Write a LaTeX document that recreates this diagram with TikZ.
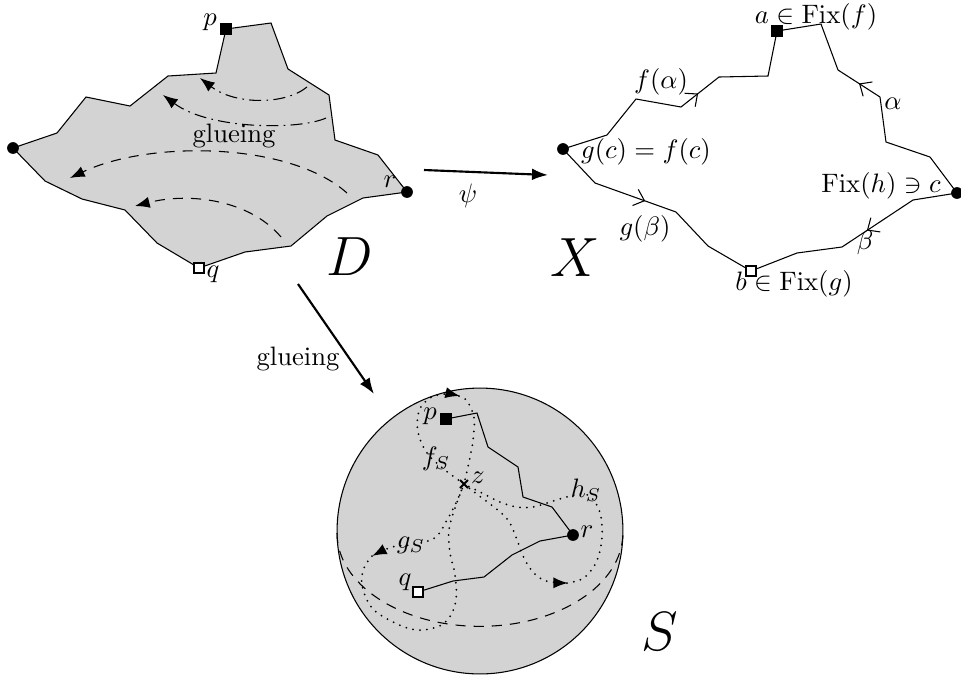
\documentclass[tikz,border=0pt]{standalone}
\usetikzlibrary{arrows.meta,decorations.markings}
\definecolor{fillg}{RGB}{211,211,211}
\begin{document}
\begin{tikzpicture}[x=0.375pt,y=-0.375pt,
  dotn/.style={circle,fill=black,inner sep=0pt,minimum size=4.4pt},
  fsq/.style={rectangle,fill=black,inner sep=0pt,minimum size=4.4pt},
  osq/.style={rectangle,draw=black,fill=white,line width=0.6pt,inner sep=0pt,minimum size=3.6pt},
  dd/.style={dash pattern=on 4.5pt off 2pt on 0.6pt off 2pt},
  dsh/.style={dash pattern=on 3.8pt off 3pt},
  dts/.style={line width=0.75pt,line cap=round,dash pattern=on 0pt off 2.6pt},
  tip/.style={-{Latex[length=5.5pt,width=4.2pt]}},
  bigarrow/.style={line width=0.8pt,-{Latex[length=6pt,width=4.4pt]}},
  lbl/.style={inner sep=0pt},
  midarrow/.style={postaction={decorate},decoration={markings,mark=at position #1 with {\arrow{Straight Barb[length=3.6pt,width=6.4pt,line width=0.4pt]}}}},
]
\useasboundingbox (0,0) rectangle (961,680);

% ---------------- D ----------------
\draw[fill=fillg] (13,148) -- (57,133) -- (86,97) -- (130,106) -- (168,76) -- (216,73) -- (226,29)
  -- (271,23) -- (288,69) -- (329,95) -- (335,140) -- (378,155) -- (407,192) -- (363,198)
  -- (327,216) -- (291,246) -- (245,252) -- (199,268) -- (157,243) -- (125,210) -- (82,199)
  -- (45,181) -- cycle;
\node[dotn] (dl) at (13,148) {};
\node[dotn] (dr) at (407,192) {};
\node[fsq] (dp) at (226,29) {};
\node[osq] (dq) at (199,268) {};
\node[lbl] (lp) at (210,22) {$p$};
\node[lbl] (lr) at (390,182) {$r$};
\node[lbl] (lq) at (213,274) {$q$};
\node[lbl] (lD) at (350,257) {\huge $D$};
\node[lbl,anchor=base] (lg1) at (234,142) {glueing};

\draw[dd,tip] (307,87) .. controls (285,105) and (235,105) .. (200,78);
\draw[dd,tip] (326,118) .. controls (300,130) and (210,130) .. (163,95);
\draw[dsh,tip] (347,193) .. controls (290,142) and (150,140) .. (70,178);
\draw[dsh,tip] (281,237) .. controls (250,200) and (190,192) .. (135,206);

% psi arrow
\coordinate (psiA) at (424,170);
\coordinate (psiB) at (548,175);
\draw[bigarrow] (psiA) -- (psiB);
\node[lbl] (lpsi) at (468,196) {$\psi$};

% glueing arrow
\coordinate (glA) at (298,284);
\coordinate (glB) at (374,394);
\draw[bigarrow] (glA) -- (glB);
\node[lbl,anchor=base] (lg2) at (298,365) {glueing};

% ---------------- X ----------------
\draw (563,149) -- (607,135) -- (636,99) -- (681,107);
\draw[midarrow=0.45] (681,107) -- (719,77);
\draw (719,77) -- (768,76) -- (777,31) -- (821,24) -- (838,70);
\draw[midarrow=0.5] (880,97) -- (838,70);
\draw (880,97) -- (886,142) -- (930,157) -- (957,193) -- (913,200);
\draw[midarrow=0.65] (913,200) -- (842,247);
\draw (842,247) -- (797,253) -- (751,271) -- (708,246) -- (676,212);
\draw[midarrow=0.62] (595,183) -- (676,212);
\draw (595,183) -- (563,149);
\node[dotn] (xc) at (563,149) {};
\node[dotn] (xc2) at (957,193) {};
\node[fsq] (xa) at (777,31) {};
\node[osq] (xb) at (751,271) {};
\node[lbl] (lfa) at (661,82) {$f(\alpha)$};
\node[lbl] (la) at (816,17) {$a\in\mathrm{Fix}(f)$};
\node[lbl] (lal) at (893,104) {$\alpha$};
\node[lbl] (lgc) at (646,152) {$g(c)=f(c)$};
\node[lbl] (lfh) at (881,186) {$\mathrm{Fix}(h)\ni c$};
\node[lbl] (lbe) at (865,243) {$\beta$};
\node[lbl] (lgb) at (645,229) {$g(\beta)$};
\node[lbl] (lb) at (794,284) {$b\in\mathrm{Fix}(g)$};
\node[lbl] (lX) at (575,258) {\huge $X$};

% ---------------- S ----------------
\draw[fill=fillg] (480,531) circle[radius=53.6pt];
\draw[dsh] (337,533) arc[start angle=180,end angle=360,x radius=53.6pt,y radius=35pt];

\draw (446,419) -- (477,413) -- (488,447) -- (518,467) -- (523,497) -- (552,507) -- (573,535)
  -- (540,541) -- (512,555) -- (484,577) -- (453,581) -- (418,592);

% f_S loop
\draw[dts,tip] plot[smooth,tension=0.6] coordinates {(464,484) (445,470) (427,453) (418,432) (419,411) (430,398) (445,394) (460,396)};
\draw[dts] plot[smooth,tension=0.6] coordinates {(459,396) (467,401) (474,418) (473,440) (469,462) (464,484)};
% g_S loop
\draw[dts,tip] plot[smooth,tension=0.6] coordinates {(464,484) (456,503) (447,520) (438,535) (428,541) (410,545) (392,547) (372,556)};
\draw[dts] plot[smooth,tension=0.6] coordinates {(372,556) (364,568) (362,585) (372,608) (395,623) (417,630) (437,627) (449,618) (456,600) (455,575) (450,553) (449,530) (455,508) (464,484)};
% h_S loop
\draw[dts,tip] plot[smooth,tension=0.6] coordinates {(464,484) (478,495) (494,507) (508,520) (516,537) (523,556) (533,572) (546,581) (568,583)};
\draw[dts] plot[smooth,tension=0.6] coordinates {(567,583) (580,580) (590,572) (598,558) (602,538) (601,517) (595,502) (585,494) (570,496) (550,502) (533,507) (517,507) (500,502) (480,492) (464,484)};

\coordinate (z) at (464,484);
\draw[line width=0.7pt] ([shift={(-4,-4)}]z) -- ([shift={(4,4)}]z) ([shift={(-4,4)}]z) -- ([shift={(4,-4)}]z);

\node[fsq] (sp) at (446,419) {};
\node[dotn] (sr) at (573,535) {};
\node[osq] (sq) at (418,592) {};
\node[lbl] (lsp) at (430,416) {$p$};
\node[lbl] (lsr) at (587,532) {$r$};
\node[lbl] (lsq) at (405,582) {$q$};
\node[lbl] (lz) at (478,478) {$z$};
\node[lbl] (lfs) at (436,459) {$f_S$};
\node[lbl] (lhs) at (586,490) {$h_S$};
\node[lbl] (lgs) at (411,545) {$g_S$};
\node[lbl] (lS) at (660,632) {\huge $S$};
\end{tikzpicture}
\end{document}
